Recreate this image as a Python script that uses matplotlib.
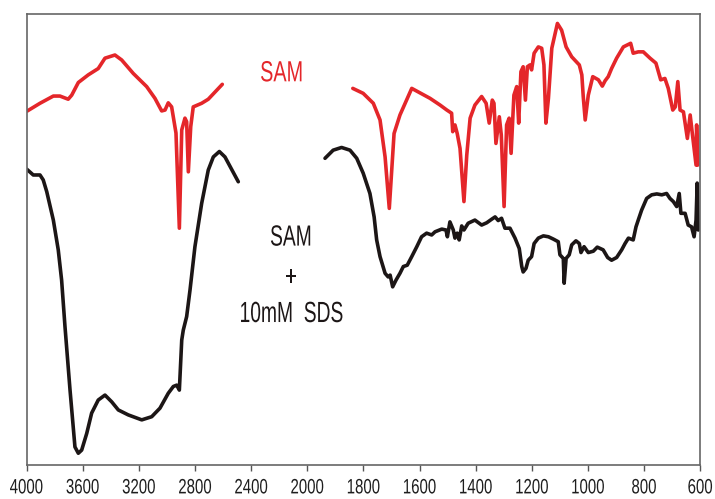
import numpy as np
import matplotlib
matplotlib.use("Agg")
import matplotlib.pyplot as plt
from matplotlib.patheffects import AbstractPathEffect
from matplotlib.transforms import Affine2D

plt.rcParams['font.family'] = ['Liberation Sans Narrow', 'Liberation Sans', 'DejaVu Sans']

# ---- data: wavenumber (cm-1) and transmittance (arbitrary %) ----
sam_hi_wn = [3995, 3905, 3810, 3763, 3704, 3679, 3632, 3561, 3490, 3442, 3371, 3323, 3240, 3145,
             3086, 3038, 3014, 2991, 2967, 2936, 2912, 2895, 2872, 2860, 2848, 2831, 2813, 2753,
             2706, 2606]
sam_hi_t = [78.4, 80.1, 81.7, 81.7, 81.0, 81.9, 84.7, 86.4, 87.8, 90.1, 90.8, 89.7, 86.7, 83.8,
            81.2, 78.4, 78.6, 80.2, 79.3, 73.5, 52.4, 74.2, 76.8, 76.0, 64.9, 74.9, 79.3, 80.1,
            81.0, 84.3]

sam_lo_wn = [1838, 1801, 1765, 1741, 1723, 1708, 1691, 1670, 1628, 1563, 1527, 1503, 1486, 1482,
             1474, 1466, 1456, 1442, 1432, 1420, 1403, 1379, 1363, 1352, 1341, 1335, 1328, 1316,
             1309, 1299, 1290, 1281, 1274, 1264, 1254, 1247, 1239, 1231, 1223, 1216, 1207, 1201,
             1192, 1177, 1165, 1157, 1150, 1141, 1129, 1109, 1094, 1078, 1058, 1031, 1022, 1017,
             1010, 999, 983, 963, 949, 939, 928, 916, 898, 874, 848, 839, 821, 803, 779, 758, 741,
             726, 714, 698, 689, 680, 672, 660, 646, 636, 627, 615, 613, 609]
sam_lo_t = [83.4, 82.3, 80.1, 76.4, 68.2, 56.8, 73.4, 77.5, 83.4, 81.2, 79.7, 78.6, 77.9, 73.8,
            75.3, 73.4, 70.1, 58.3, 68.6, 76.8, 79.7, 81.6, 80.1, 75.7, 80.8, 80.1, 71.2, 77.1,
            73.1, 57.2, 75.3, 76.8, 69.0, 81.9, 83.8, 75.7, 87.1, 88.2, 80.8, 88.2, 88.6, 87.5,
            91.2, 92.6, 92.3, 88.6, 75.7, 81.2, 92.3, 97.8, 96.3, 92.6, 90.4, 88.6, 86.4, 81.6,
            76.4, 81.9, 86.0, 85.3, 83.9, 85.1, 86.0, 87.8, 90.1, 92.6, 93.4, 91.2, 91.5, 91.5,
            90.1, 89.0, 85.3, 85.6, 83.4, 78.6, 79.3, 84.9, 78.6, 78.2, 72.3, 77.5, 72.7, 66.4,
            75.3, 66.4]

sds_hi_wn = [4000, 3953, 3905, 3882, 3857, 3810, 3775, 3751, 3727, 3691, 3656, 3632, 3608, 3572,
             3537, 3490, 3442, 3394, 3347, 3276, 3180, 3109, 3050, 2991, 2955, 2931, 2912, 2895,
             2884, 2860, 2836, 2801, 2753, 2706, 2670, 2627, 2587, 2492]
sds_hi_t = [65.5, 64.2, 64.2, 63.1, 60.5, 54.2, 47.6, 40.9, 30.6, 16.5, 3.9, 2.5, 3.2, 6.9,
            11.4, 14.3, 15.4, 13.9, 12.1, 11.0, 9.9, 10.6, 12.5, 15.8, 17.3, 17.6, 16.5, 27.6,
            29.8, 32.8, 38.7, 48.3, 57.9, 65.3, 68.2, 69.4, 68.2, 62.7]

sds_lo_wn = [1937, 1908, 1878, 1848, 1824, 1801, 1777, 1762, 1753, 1741, 1723, 1712, 1705, 1696,
             1684, 1670, 1658, 1644, 1628, 1610, 1593, 1575, 1557, 1545, 1521, 1506, 1501, 1492,
             1480, 1474, 1466, 1459, 1450, 1442, 1427, 1403, 1379, 1361, 1343, 1331, 1320, 1308,
             1296, 1278, 1260, 1245, 1236, 1231, 1221, 1213, 1201, 1192, 1177, 1159, 1141, 1124,
             1106, 1100, 1088, 1085, 1078, 1067, 1058, 1043, 1031, 1025, 1014, 999, 981, 967, 946,
             930, 916, 898, 880, 868, 856, 839, 829, 821, 809, 791, 773, 755, 737, 720, 708, 696,
             684, 675, 669, 654, 643, 631, 622, 615, 611, 607]
sds_lo_t = [67.9, 69.7, 70.3, 69.7, 67.9, 64.6, 60.1, 54.9, 49.8, 46.1, 42.4, 41.6, 42.0, 39.4,
            40.9, 42.4, 43.9, 44.2, 46.1, 48.3, 50.5, 51.3, 50.9, 51.6, 52.2, 52.0, 50.5, 53.8,
            52.0, 50.2, 51.3, 49.8, 52.9, 52.0, 53.5, 54.2, 53.1, 53.6, 54.4, 54.9, 54.1, 54.6,
            52.4, 52.4, 50.2, 47.9, 43.9, 42.7, 43.5, 45.3, 46.1, 49.0, 50.2, 50.7, 50.5, 50.0,
            49.4, 46.5, 45.7, 40.2, 45.7, 46.5, 48.7, 49.6, 49.0, 47.0, 48.3, 47.0, 47.3, 48.2, 47.6,
            45.9, 45.3, 45.9, 47.6, 49.0, 50.2, 49.8, 52.7, 54.2, 56.4, 59.0, 59.8, 60.0, 59.8, 60.1,
            59.0, 58.3, 57.2, 60.1, 55.7, 55.7, 53.1, 52.7, 50.5, 54.2, 62.4, 52.0]

tick_values = [4000, 3600, 3200, 2800, 2400, 2000, 1800, 1600, 1400, 1200, 1000, 800, 600]
tick_labels = [str(v) for v in tick_values]

label_sam = "SAM"
label_sds = ["SAM", "+", "10mM  SDS"]


# ---- axis with scale break at 2000 cm-1 (400/div above, 200/div below) ----
def fwd(w):
    w = np.asarray(w, dtype=float)
    return np.where(w >= 2000, w / 400.0, w / 200.0 - 5.0)


def inv(p):
    p = np.asarray(p, dtype=float)
    return np.where(p >= 5, p * 400.0, (p + 5.0) * 200.0)


class Condense(AbstractPathEffect):
    """Draw text glyphs horizontally narrowed about their own centre."""

    def __init__(self, sx=0.75):
        super().__init__()
        self.sx = sx

    def draw_path(self, renderer, gc, tpath, affine, rgbFace=None):
        ext = tpath.get_extents(affine)
        cx = 0.5 * (ext.x0 + ext.x1)
        t = affine + Affine2D().translate(-cx, 0).scale(self.sx, 1.0).translate(cx, 0)
        renderer.draw_path(gc, tpath, t, rgbFace)


fig = plt.figure(figsize=(7.15, 4.99), dpi=100)
ax = fig.add_axes([0.0373, 0.0691, 0.9421, 0.9038])
ax.set_xscale('function', functions=(fwd, inv))
ax.set_xlim(4000, 600)
ax.set_ylim(0, 100)

red = '#e4262a'
blk = '#1c1616'
lw = 2.6
kw = dict(lw=lw, solid_joinstyle='round', solid_capstyle='round')
ax.plot(sam_hi_wn, sam_hi_t, color=red, **kw)
ax.plot(sam_lo_wn, sam_lo_t, color=red, **kw)
ax.plot(sds_hi_wn, sds_hi_t, color=blk, **kw)
ax.plot(sds_lo_wn, sds_lo_t, color=blk, **kw)

ax.set_xticks(tick_values)
ax.set_xticklabels(tick_labels)
ax.minorticks_off()
ax.set_yticks([])
ax.tick_params(axis='x', direction='out', length=4, width=1, color='#555555',
               labelsize=15, labelcolor='#1e1e1e', pad=6)
for lab in ax.get_xticklabels():
    lab.set_path_effects([Condense(0.72)])
for s in ax.spines.values():
    s.set_color('#666666')
    s.set_linewidth(1.2)

t = ax.text(0.3786, 0.8674, label_sam, transform=ax.transAxes, color=red, fontsize=21,
            ha='center', va='center')
t.set_path_effects([Condense(0.68)])
for txt, yy in zip(label_sds, [0.5032, 0.4135, 0.3337]):
    t = ax.text(0.3924, yy, txt, transform=ax.transAxes, color=blk, fontsize=21,
                ha='center', va='center')
    t.set_path_effects([Condense(0.66)])

fig.savefig('out.png', dpi=100)
